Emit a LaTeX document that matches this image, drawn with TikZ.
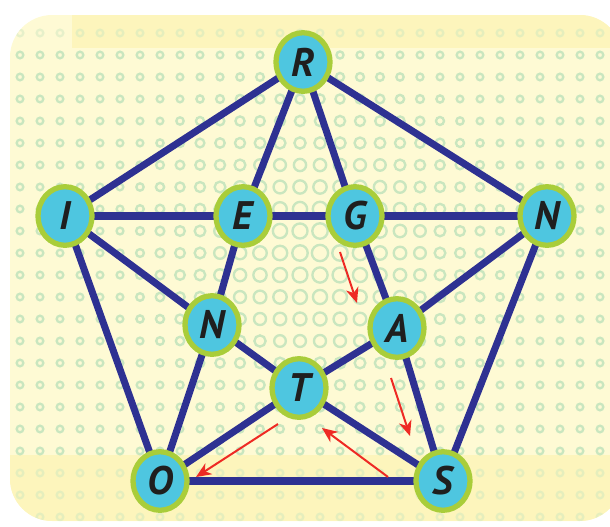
\documentclass[tikz,border=0pt]{standalone}
\usepackage{fontspec}
\setsansfont{PT Sans}
\usetikzlibrary{arrows.meta,shapes.geometric}

\definecolor{paper}{HTML}{FEFAD4}
\definecolor{paperband}{HTML}{FDF5BC}
\definecolor{dotgreen}{HTML}{C9E6BF}
\definecolor{nodefill}{HTML}{4EC6E0}
\definecolor{noderim}{HTML}{A9CD3A}
\definecolor{edgeblue}{HTML}{2E3192}
\definecolor{arrowred}{HTML}{EE2A24}

\pgfdeclarelayer{deco}
\pgfdeclarelayer{edges}
\pgfsetlayers{deco,edges,main}

\tikzset{
  vertex/.style={ellipse, draw=noderim, fill=nodefill, line width=4.5pt,
    minimum width=46pt, minimum height=50pt, inner sep=0pt, text=black!88,
    font=\fontsize{34}{34}\selectfont\sffamily\bfseries\itshape},
  link/.style={draw=edgeblue, line width=6pt},
  move/.style={draw=arrowred, line width=1.7pt, -{Stealth[length=13pt,width=11pt,inset=4pt]}}
}

\begin{document}
\begin{tikzpicture}[x=0.03cm,y=-0.03cm]
\useasboundingbox (0,0) rectangle (610,526);

% letters
\node[vertex] (R) at (303,62) {R};
\node[vertex] (I) at (65,216) {I};
\node[vertex] (E) at (243,216) {E};
\node[vertex] (G) at (355,216) {G};
\node[vertex] (N) at (547,216) {N};
\node[vertex] (M) at (212,325) {N};
\node[vertex] (A) at (397,328) {A};
\node[vertex] (T) at (299,388) {T};
\node[vertex] (O) at (160,481) {O};
\node[vertex] (S) at (443,481) {S};

% background card with ring pattern
\begin{pgfonlayer}{deco}
\fill[paper, rounded corners=36] (10,15) rectangle (622,521);
\begin{scope}
\clip[rounded corners=36] (10,15) rectangle (622,521);
\fill[paperband] (10,455) rectangle (622,521);
\fill[paperband] (72,15) rectangle (622,48);
\foreach \x in {20,40,...,610}
  \foreach \y in {33,55,...,520}{
    \pgfmathsetmacro{\r}{max(3.3,8.2-veclen(\x-320,\y-250)/42)}
    \pgfmathsetmacro{\o}{(\y<50 || \y>455) ? 0.45 : 1}
    \draw[dotgreen, line width=2pt, opacity=\o] (\x,\y) circle[radius=\r];
  }
\end{scope}
\end{pgfonlayer}

% connections
\begin{pgfonlayer}{edges}
\foreach \a/\b in {R/I,R/E,R/G,R/N,I/E,E/G,G/N,I/M,I/O,E/M,G/A,N/A,N/S,
                   M/O,M/T,A/T,A/S,T/O,T/S,O/S}
  \draw[link] (\a.center) -- (\b.center);
\end{pgfonlayer}

% red path arrows
\coordinate (g1) at (340,252);
\coordinate (g2) at (357,303);
\coordinate (a1) at (391,378);
\coordinate (a2) at (410,436);
\coordinate (s1) at (388,477);
\coordinate (s2) at (322,428);
\coordinate (t1) at (278,424);
\coordinate (t2) at (196,477);
\draw[move] (g1) -- (g2);
\draw[move] (a1) -- (a2);
\draw[move] (s1) -- (s2);
\draw[move] (t1) -- (t2);
\end{tikzpicture}
\end{document}
